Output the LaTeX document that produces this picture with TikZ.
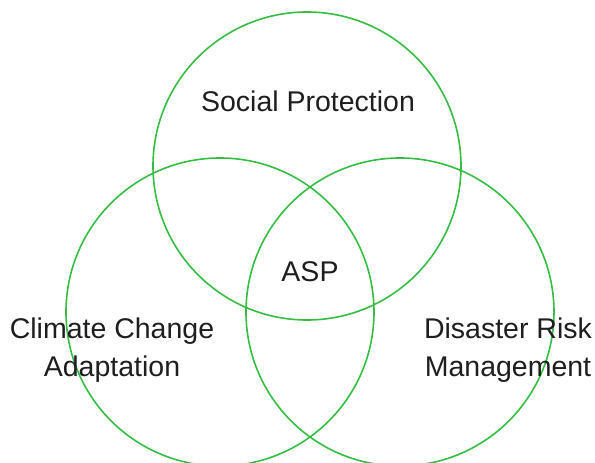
\documentclass[tikz,border=0pt]{standalone}
\usepackage{fontspec}
\setmainfont{Liberation Sans}
\definecolor{vgreen}{HTML}{35BC42}
\definecolor{vtext}{HTML}{1E1E1E}
\begin{document}
\begin{tikzpicture}[x=1pt,y=-1pt,
  ring/.style={draw=vgreen,line width=1.6pt},
  lbl/.style={text=vtext,font=\fontsize{28.5}{37.5}\selectfont,align=center,inner sep=0pt}]
\useasboundingbox (0,0) rectangle (595,463);
\begin{scope}
\clip (0,0) rectangle (595,463);
\draw[ring] (307,166) circle[radius=154];
\draw[ring] (220,312) circle[radius=154];
\draw[ring] (400,312) circle[radius=154];
\end{scope}
\node[lbl] (sp) at (308,101) {Social Protection};
\node[lbl] (asp) at (310,271.5) {ASP};
\node[lbl] (cca) at (112,350) {Climate Change\\Adaptation};
\node[lbl] (drm) at (508,350) {Disaster Risk\\Management};
\end{tikzpicture}
\end{document}
